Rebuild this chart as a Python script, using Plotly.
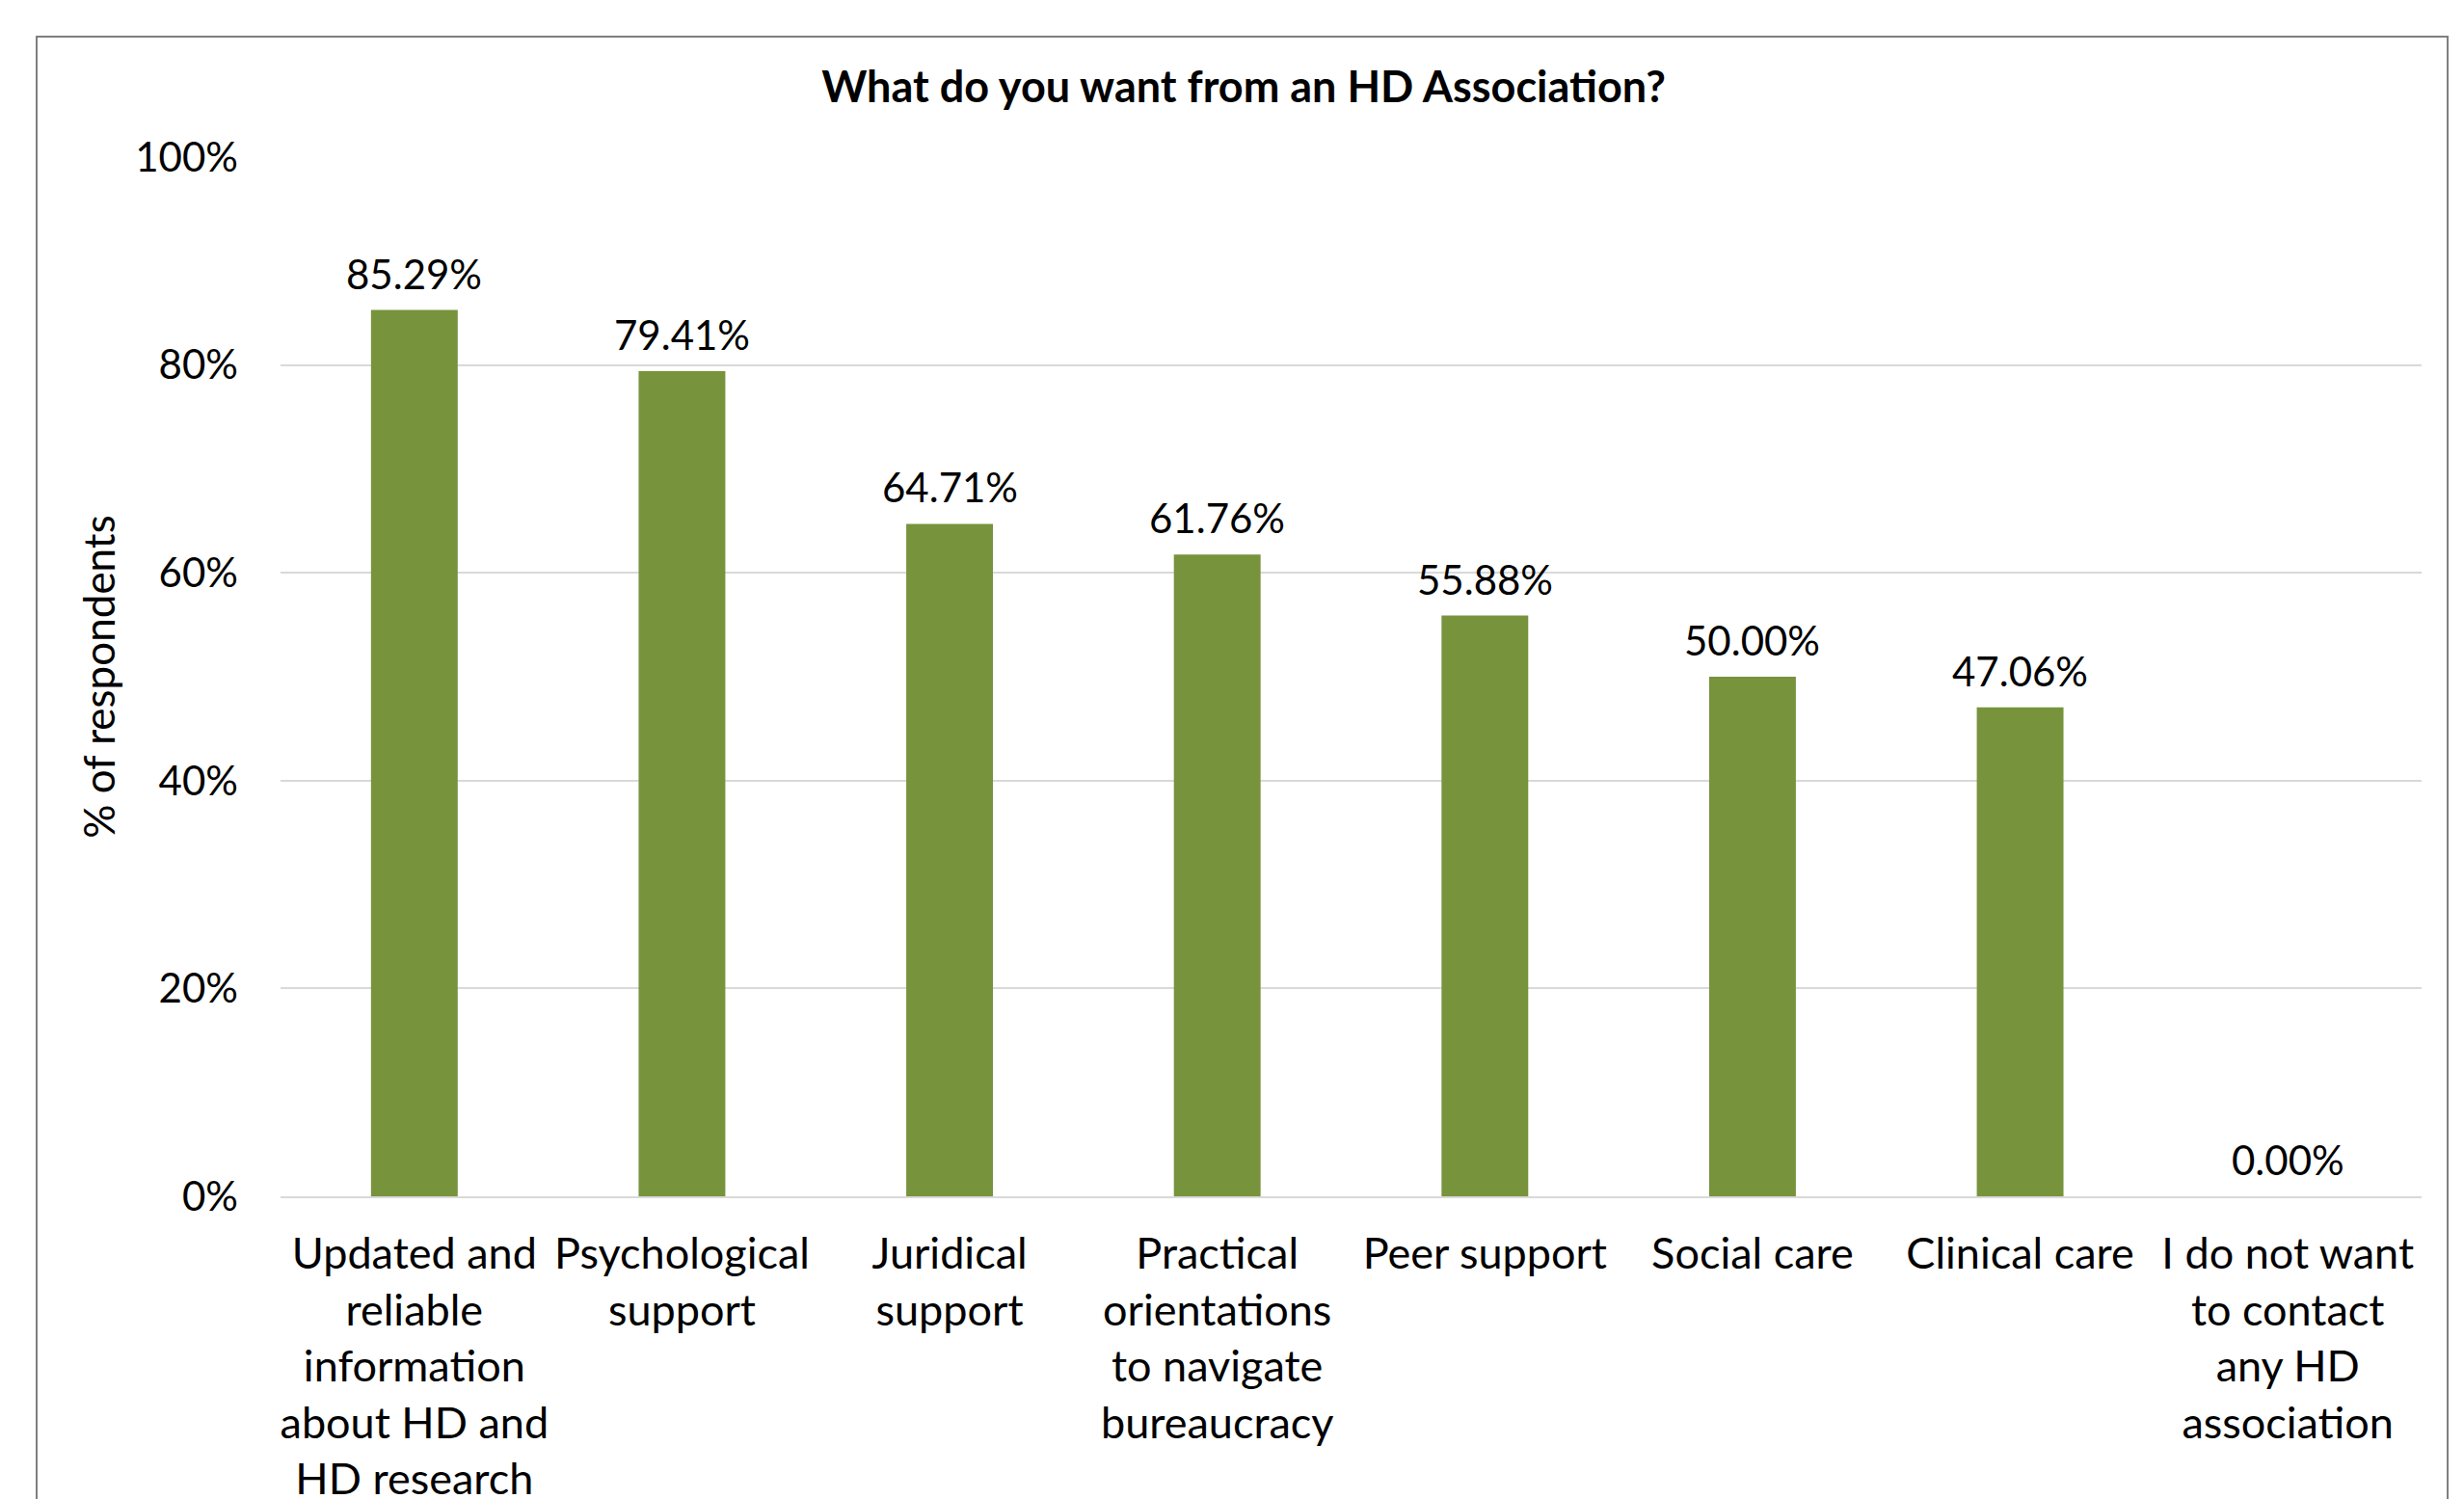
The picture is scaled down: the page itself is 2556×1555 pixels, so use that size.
import plotly.graph_objects as go

categories = [
    "Updated and<br>reliable<br>information<br>about HD and<br>HD research",
    "Psychological<br>support",
    "Juridical<br>support",
    "Practical<br>orientations<br>to navigate<br>bureaucracy",
    "Peer support",
    "Social care",
    "Clinical care",
    "I do not want<br>to contact<br>any HD<br>association",
]
values = [0.8529, 0.7941, 0.6471, 0.6176, 0.5588, 0.5000, 0.4706, 0.0]
labels = ["85.29%", "79.41%", "64.71%", "61.76%", "55.88%", "50.00%", "47.06%", "0.00%"]
title_text = "What do you want from an HD Association?"
y_title = "% of respondents"

FONT = "Lato"
OFF = 8  # page body margin
W, H = 2556, 1555
L, R, T, B = 291 - OFF, 44 + OFF, 163 - OFF, 314 + OFF
pw, ph = W - L - R, H - T - B

fig = go.Figure()
fig.add_trace(go.Bar(
    x=categories, y=values,
    marker=dict(color="#77933C", line=dict(width=0)),
    cliponaxis=False,
))

for c, v, t in zip(categories, values, labels):
    fig.add_annotation(x=c, y=v, text=t, showarrow=False, xref="x", yref="y",
                       xanchor="center", yanchor="middle", yshift=38,
                       font=dict(family=FONT, size=42, color="#000000"))

def px_x(p):
    return (p - OFF - L) / pw

def px_y(p):
    return (H - B - (p - OFF)) / ph

fig.add_shape(type="rect", xref="paper", yref="paper",
              x0=px_x(38), x1=px_x(2539), y0=px_y(1700), y1=px_y(38),
              line=dict(color="#7F7F7F", width=2), fillcolor="rgba(0,0,0,0)", layer="below")

fig.update_layout(
    width=W, height=H,
    margin=dict(l=L, r=R, t=T, b=B, autoexpand=False),
    paper_bgcolor="white", plot_bgcolor="white",
    bargap=0.676,
    showlegend=False,
    font=dict(family=FONT, size=42, color="#000000"),
    title=dict(text="<b>" + title_text + "</b>", x=(1290 - OFF) / W, xref="container", xanchor="center",
               y=1 - (90 - OFF) / H, yref="container", yanchor="middle",
               font=dict(family=FONT, size=45, color="#000000")),
)
fig.update_yaxes(
    range=[0, 1], dtick=0.2, tickformat=".0%",
    showgrid=True, gridcolor="#D9D9D9", gridwidth=2,
    zeroline=False, showline=False,
    ticks="", ticklabelstandoff=43,
    tickfont=dict(family=FONT, size=42, color="#000000"),
    title=dict(text=y_title, standoff=6, font=dict(family=FONT, size=44, color="#000000")),
)
fig.update_xaxes(
    showgrid=False, zeroline=False,
    showline=True, linecolor="#D9D9D9", linewidth=2,
    ticks="", ticklabelstandoff=19, tickangle=0,
    tickfont=dict(family=FONT, size=45, color="#000000"),
)

fig.write_html("out.html")
